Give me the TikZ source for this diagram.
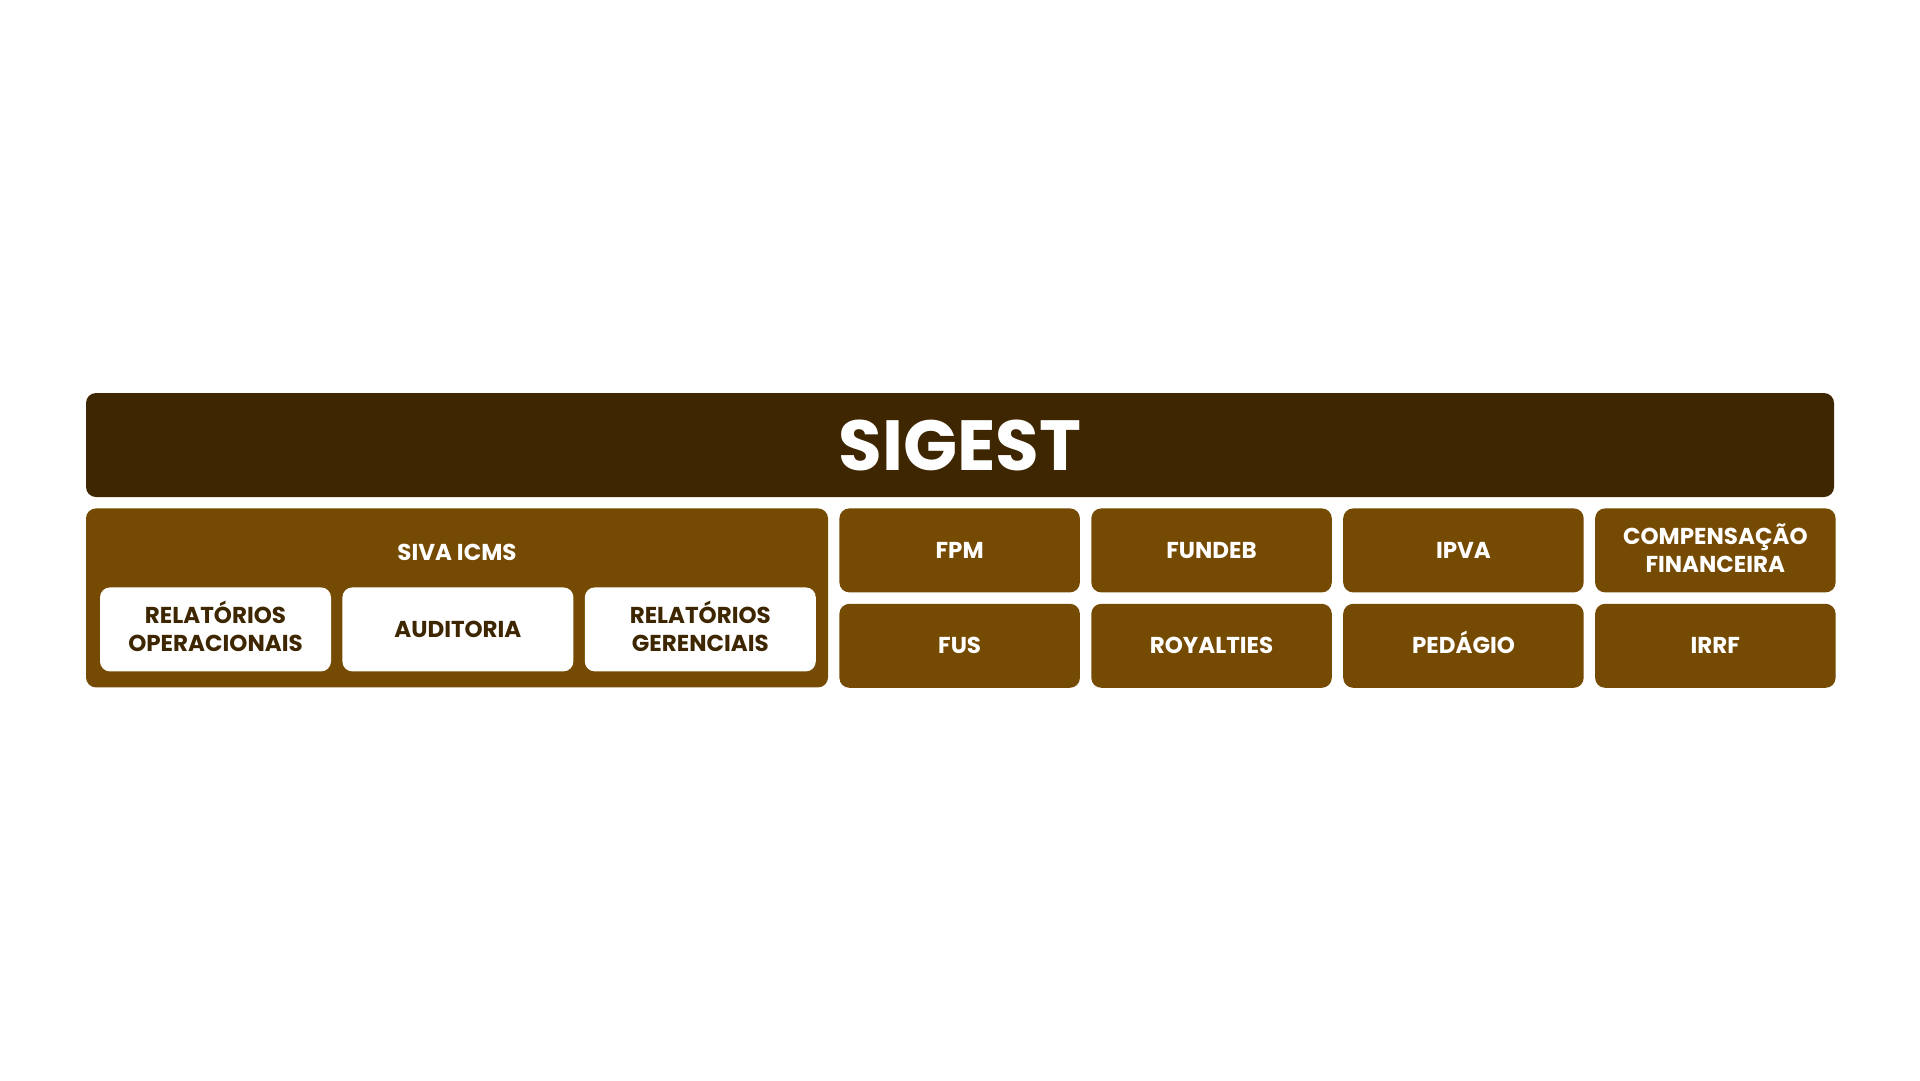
\documentclass[tikz,border=0pt]{standalone}
\usepackage{fontspec}
\setmainfont{Poppins}
\usetikzlibrary{positioning}
\definecolor{sigestdark}{HTML}{3D2600}
\definecolor{sigestbrown}{HTML}{754A02}

\begin{document}
\begin{tikzpicture}[x=1pt, y=1pt,
        title_bar/.style={
            rectangle, rounded corners=10pt, fill=sigestdark, text=white,
            minimum width=1748pt, minimum height=104pt, inner sep=0pt,
            font=\bfseries\fontsize{71}{78}\selectfont
        },
        group_box/.style={
            rectangle, rounded corners=10pt, fill=sigestbrown,
            minimum width=742pt, minimum height=179pt, inner sep=0pt
        },
        module_box/.style={
            rectangle, rounded corners=10pt, fill=sigestbrown, text=white, align=center,
            minimum width=240.5pt, minimum height=84pt, inner sep=0pt,
            font=\bfseries\fontsize{23}{27.5}\selectfont
        },
        report_box/.style={
            module_box, fill=white, text=sigestdark, minimum width=231pt
        }
    ]
    \useasboundingbox (0,0) rectangle (1920,-1080);

    % Header
    \node[title_bar] (sigest) at (960,-445) {SIGEST};

    % SIVA ICMS group with its reports
    \node[group_box, below=11pt of sigest.south west, anchor=north west] (siva) {};
    \node[text=white, font=\bfseries\fontsize{23}{27.5}\selectfont, below=44pt of siva.north, anchor=center] (siva_label) {SIVA ICMS};
    \node[report_box, above right=16pt and 14pt of siva.south west] (rep_op) {RELAT\smash{Ó}RIOS\\OPERACIONAIS};
    \node[report_box, right=11pt of rep_op] (audit) {AUDITORIA};
    \node[report_box, right=11pt of audit] (rep_ger) {RELAT\smash{Ó}RIOS\\GERENCIAIS};

    % Modules (top row)
    \node[module_box, right=11pt of siva.north east, anchor=north west] (fpm) {FPM};
    \node[module_box, right=11pt of fpm] (fundeb) {FUNDEB};
    \node[module_box, right=11pt of fundeb] (ipva) {IPVA};
    \node[module_box, right=11pt of ipva] (comp) {COMPENSA\smash{Ç}\smash{Ã}O\\FINANCEIRA};

    % Modules (bottom row)
    \node[module_box, below=11pt of fpm] (fus) {FUS};
    \node[module_box, below=11pt of fundeb] (royal) {ROYALTIES};
    \node[module_box, below=11pt of ipva] (pedagio) {PED\smash{Á}GIO};
    \node[module_box, below=11pt of comp] (irrf) {IRRF};

\end{tikzpicture}
\end{document}
